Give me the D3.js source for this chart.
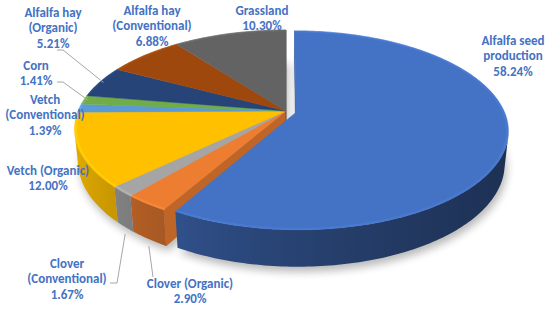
<!DOCTYPE html>
<html>
<head>
<meta charset="utf-8">
<script src="https://cdn.jsdelivr.net/npm/d3@7"></script>
<style>
	html, body { margin: 0; padding: 0; background: #fff; }
	svg { display: block; }
	.label { font-family: Carlito, Calibri, Lato, sans-serif; font-weight: 700; font-size: 13px; fill: #4472c4; }
</style>
</head>
<body>
<svg id="chart" width="550" height="310"></svg>
<script>

const categories = [
	'Alfalfa seed production',
	'Clover (Organic)',
	'Clover (Conventional)',
	'Vetch (Organic)',
	'Vetch (Conventional)',
	'Corn',
	'Alfalfa hay (Organic)',
	'Alfalfa hay (Conventional)',
	'Grassland'
];
const shares = [58.24, 2.90, 1.67, 12.00, 1.39, 1.41, 5.21, 6.88, 10.30];
const colors = ['#4472c4', '#ed7d31', '#a5a5a5', '#ffc000', '#5b9bd5', '#70ad47', '#264478', '#9e480e', '#636363'];
const explode = [0.05, 0, 0, 0, 0, 0, 0, 0, 0];

// label placement: centre x, first line centre y, words on first line (0 = no wrap), leader start
const labelLayout = [
	{ x: 513, y: 40, brk: 2, lead: null },
	{ x: 190, y: 283, brk: 0, lead: [[153, 277]] },
	{ x: 67, y: 263, brk: 1, lead: [[110, 283], [117, 283]] },
	{ x: 48, y: 170, brk: 0, lead: null },
	{ x: 45, y: 99, brk: 1, lead: null },
	{ x: 36, y: 65, brk: 0, lead: [[57, 82], [63, 82]] },
	{ x: 53, y: 12, brk: 2, lead: [[57, 50], [63, 50]] },
	{ x: 152, y: 10, brk: 2, lead: null },
	{ x: 262, y: 10, brk: 0, lead: null }
];

const TILT = 27.4 * Math.PI / 180,
	sinA = Math.sin(TILT),
	cosA = Math.cos(TILT),
	F = 4.88,
	R = 208,
	CX = 286,
	CY = 111,
	H = 0.177,
	CAM_X = 0,
	LINE_H = 15.6,
	cam = [CAM_X, -F * cosA, F * sinA],
	lightAngle = 285 * Math.PI / 180;

const svg = d3.select('#chart');

// world: x right, y away from viewer, z up; pie top at z = 0
function project(p) {
	let yc = p[1] * sinA + p[2] * cosA,
		zc = p[1] * cosA - p[2] * sinA,
		s = F / (F + zc);
	return [CX + (p[0] - CAM_X) * s * R, CY - yc * s * R, zc];
}

function faces(pts) {
	return 'M' + pts.map(p => project(p).slice(0, 2).map(v => v.toFixed(2)).join(',')).join('L') + 'Z';
}

function facing(n, p) {
	return n[0] * (cam[0] - p[0]) + n[1] * (cam[1] - p[1]) + n[2] * (cam[2] - p[2]) > 0;
}

function shadeK(t) {
	return 1.25 - 1.1 * Math.cos(t - lightAngle);
}

const arcs = d3.pie().sort(null).value(d => d).startAngle(0).endAngle(2 * Math.PI)(shares);

let slices = arcs.map((a, i) => {
	let mid = (a.startAngle + a.endAngle) / 2,
		off = [explode[i] * Math.sin(mid), explode[i] * Math.cos(mid)];
	return {
		i: i,
		a0: a.startAngle,
		a1: a.endAngle,
		mid: mid,
		color: colors[i],
		rim: (t, z, r = 1) => [off[0] + r * Math.sin(t), off[1] + r * Math.cos(t), z],
		ctr: z => [off[0], off[1], z]
	};
});

function angles(a0, a1) {
	let n = Math.max(2, Math.ceil((a1 - a0) / (Math.PI / 180)));
	return d3.range(n + 1).map(k => a0 + (a1 - a0) * k / n);
}

let defs = svg.append('defs');
defs.append('filter').attr('id', 'blur')
	.attr('x', '-20%').attr('y', '-20%').attr('width', '140%').attr('height', '140%')
	.append('feGaussianBlur').attr('stdDeviation', 4);

// soft shadow under the pie
svg.append('g')
	.attr('filter', 'url(#blur)')
	.attr('opacity', 0.28)
	.attr('transform', 'translate(2,5)')
	.selectAll('path')
	.data(slices)
	.enter().append('path')
	.attr('fill', '#000')
	.attr('d', s => faces([s.ctr(-H)].concat(angles(s.a0, s.a1).map(t => s.rim(t, -H)))));

// radial cut faces, only where a slice is pulled away from its neighbour
let sideFaces = [];
slices.forEach((s, i) => {
	let prev = (i - 1 + slices.length) % slices.length,
		next = (i + 1) % slices.length;
	if (explode[prev] !== explode[i]) {
		let n = [-Math.cos(s.a0), Math.sin(s.a0), 0];
		if (facing(n, s.rim(s.a0, -H / 2, 0.5))) {
			sideFaces.push({ s: s, pts: [s.ctr(0), s.rim(s.a0, 0), s.rim(s.a0, -H), s.ctr(-H)] });
		}
	}
	if (explode[next] !== explode[i]) {
		let n = [Math.cos(s.a1), -Math.sin(s.a1), 0];
		if (facing(n, s.rim(s.a1, -H / 2, 0.5))) {
			sideFaces.push({ s: s, pts: [s.ctr(0), s.rim(s.a1, 0), s.rim(s.a1, -H), s.ctr(-H)] });
		}
	}
});

svg.append('g').selectAll('path')
	.data(sideFaces)
	.enter().append('path')
	.attr('d', f => faces(f.pts))
	.attr('fill', f => d3.color(f.s.color).darker(0.6))
	.attr('stroke', f => d3.color(f.s.color).darker(0.6))
	.attr('stroke-width', 0.5);

// outer walls: one path per slice over its visible range, shaded with a horizontal gradient
let walls = [];
slices.forEach(s => {
	let vis = angles(s.a0, s.a1).filter(t => facing([Math.sin(t), Math.cos(t), 0], s.rim(t, -H / 2)));
	if (vis.length < 2) { return; }
	let top = vis.map(t => s.rim(t, 0)),
		bottom = vis.map(t => s.rim(t, -H)).reverse(),
		xs = vis.map(t => project(s.rim(t, 0))[0]),
		x0 = xs[0],
		x1 = xs[xs.length - 1];
	walls.push({
		s: s,
		pts: top.concat(bottom),
		x0: x0,
		x1: x1,
		stops: vis.map((t, k) => ({
			offset: x1 === x0 ? 0 : (xs[k] - x0) / (x1 - x0),
			color: d3.color(s.color).darker(shadeK(t)).formatHex()
		}))
	});
});

walls.forEach((w, k) => {
	let g = defs.append('linearGradient')
		.attr('id', 'wall' + k)
		.attr('gradientUnits', 'userSpaceOnUse')
		.attr('x1', w.x0).attr('y1', 0)
		.attr('x2', w.x1).attr('y2', 0);
	g.selectAll('stop')
		.data(w.stops)
		.enter().append('stop')
		.attr('offset', d => d.offset)
		.attr('stop-color', d => d.color);
});

svg.append('g').selectAll('path')
	.data(walls)
	.enter().append('path')
	.attr('d', w => faces(w.pts))
	.attr('fill', (w, k) => 'url(#wall' + k + ')');

// top faces
svg.append('g').selectAll('path')
	.data(slices)
	.enter().append('path')
	.attr('d', s => faces([s.ctr(0)].concat(angles(s.a0, s.a1).map(t => s.rim(t, 0)))))
	.attr('fill', s => s.color)
	.attr('stroke', s => s.color)
	.attr('stroke-width', 0.4);

// bevel highlight along the rim of each top
svg.append('g').selectAll('path')
	.data(slices)
	.enter().append('path')
	.attr('d', s => 'M' + angles(s.a0, s.a1).map(t => project(s.rim(t, 0, 0.993)).slice(0, 2).join(',')).join('L'))
	.attr('fill', 'none')
	.attr('stroke', s => d3.color(s.color).brighter(0.35))
	.attr('stroke-opacity', 0.55)
	.attr('stroke-width', 2);

// leader lines
let fmt = d3.format('.2f');
let leaders = slices.filter(s => labelLayout[s.i].lead);
svg.append('g').selectAll('path')
	.data(leaders)
	.enter().append('path')
	.attr('fill', 'none')
	.attr('stroke', '#a6a6a6')
	.attr('stroke-width', 1)
	.attr('d', s => {
		let front = Math.cos(s.mid) < 0,
			a = project(s.rim(s.mid, front ? -H : 0, front ? 1 : 0.98));
		if (front) { a[1] += 7; }
		return d3.line()(labelLayout[s.i].lead.concat([[a[0], a[1]]]));
	});

// labels
let labels = svg.append('g').selectAll('text')
	.data(slices)
	.enter().append('text')
	.attr('class', 'label')
	.attr('text-anchor', 'middle');

labels.each(function (s) {
	let lay = labelLayout[s.i],
		words = categories[s.i].split(' '),
		lines = lay.brk ? [words.slice(0, lay.brk).join(' '), words.slice(lay.brk).join(' ')] : [categories[s.i]];
	lines.push(fmt(shares[s.i]) + '%');
	d3.select(this).selectAll('tspan')
		.data(lines)
		.enter().append('tspan')
		.attr('x', lay.x)
		.attr('y', (d, k) => lay.y + k * LINE_H + 4.5)
		.text(d => d);
});

</script>
</body>
</html>
